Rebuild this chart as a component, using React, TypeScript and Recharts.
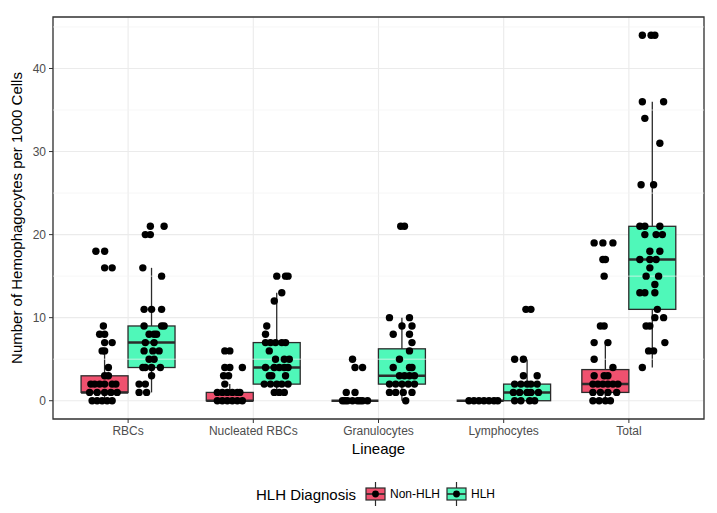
import { ComposedChart, Bar, Scatter, XAxis, YAxis, CartesianGrid, ReferenceLine, ReferenceArea, Legend } from 'recharts';

const CATEGORIES = ['RBCs', 'Nucleated RBCs', 'Granulocytes', 'Lymphocytes', 'Total'];
const GROUPS = ['Non-HLH', 'HLH'];
const COLORS = ['#F0516F', '#4FF8B9'];
const Y_TICKS = [0, 10, 20, 30, 40];
const Y_MINOR = [5, 15, 25, 35, 45];

// box stats per lineage: whisker low, q1, median, q3, whisker high
const NON_HLH_LOW = [0, 0, 0, 0, 0];
const NON_HLH_Q1 = [1, 0, 0, 0, 1];
const NON_HLH_MEDIAN = [1, 0, 0, 0, 2];
const NON_HLH_Q3 = [3, 1, 0, 0, 3.75];
const NON_HLH_HIGH = [6, 2, 0, 0, 7];

const HLH_LOW = [1, 1, 0, 0, 4];
const HLH_Q1 = [4, 2, 2, 0, 11];
const HLH_MEDIAN = [7, 4, 3, 1, 17];
const HLH_Q3 = [9, 7, 6.25, 2, 21];
const HLH_HIGH = [16, 13, 10, 5, 36];

// jittered points: [value, jitter in category units]
const RBC_NON: [number, number][] = [
  [18, -0.07], [18, 0], [16, 0], [16, 0.06], [9, -0.01], [8, -0.04], [8, 0], [7, 0], [7, 0.06],
  [6, -0.02], [6, 0], [4, 0.03], [3, 0], [3, 0.03],
  [2, -0.11], [2, -0.08], [2, -0.04], [2, 0], [2, 0.06], [2, 0.09],
  [1, -0.12], [1, -0.06], [1, 0], [1, 0.05], [1, 0.1],
  [0, -0.1], [0, -0.06], [0, -0.02], [0, 0.02], [0, 0.06],
];
const RBC_HLH: [number, number][] = [
  [21, -0.01], [21, 0.1], [20, -0.05], [20, -0.01], [16, -0.07], [15, 0.08],
  [11, -0.06], [11, 0], [11, 0.08], [9, -0.06], [9, 0.08], [9, 0.1],
  [8, -0.02], [8, 0.02], [8, 0.04], [7, -0.05], [7, 0.02], [6, -0.06], [6, 0.01], [6, 0.06],
  [5, -0.02], [5, 0.02], [4, -0.07], [4, -0.05], [4, 0], [4, 0.07], [3, 0],
  [2, -0.1], [2, -0.05], [1, -0.1], [1, -0.04],
];
const NRBC_NON: [number, number][] = [
  [6, -0.04], [6, 0], [4, -0.04], [4, 0], [4, 0.1], [3, -0.05], [3, -0.01], [2, -0.04],
  [1, -0.1], [1, -0.06], [1, -0.02], [1, 0.02], [1, 0.06], [1, 0.08],
  [0, -0.1], [0, -0.06], [0, -0.02], [0, 0.02], [0, 0.06], [0, 0.1],
];
const NRBC_HLH: [number, number][] = [
  [15, 0], [15, 0.07], [15, 0.09], [13, 0.04], [12, -0.02], [9, -0.08], [8, -0.09],
  [7, -0.09], [7, -0.05], [7, -0.01], [7, 0.04], [7, 0.07], [6, -0.06],
  [5, -0.01], [5, 0.06], [5, 0.1], [4, -0.09], [4, -0.02], [4, 0.02], [4, 0.06], [4, 0.09],
  [3, -0.06], [3, -0.04], [3, 0.07], [2, -0.1], [2, -0.05], [2, 0], [2, 0.04], [2, 0.09],
  [1, -0.02], [1, 0.02], [1, 0.06],
];
const GRAN_NON: [number, number][] = [
  [5, -0.02], [4, 0], [4, 0.06], [1, -0.07], [1, 0],
  [0, -0.1], [0, -0.08], [0, -0.06], [0, -0.02], [0, 0.02], [0, 0.04], [0, 0.06], [0, 0.1],
];
const GRAN_HLH: [number, number][] = [
  [21, -0.01], [21, 0.02], [10, -0.1], [10, 0.06], [9, 0], [9, 0.08], [8, -0.07], [8, 0.06],
  [7, 0.08], [6, 0.06], [5, -0.02], [4, -0.07], [4, 0.06], [4, 0.08],
  [3, -0.02], [3, 0.02], [3, 0.06], [3, 0.1], [2, -0.1], [2, -0.05], [2, 0], [2, 0.05], [2, 0.1],
  [1, -0.1], [1, -0.05], [1, 0.01], [1, 0.08], [0, 0.03],
];
const LYMPH_NON: [number, number][] = [
  [0, -0.09], [0, -0.05], [0, -0.01], [0, 0.03], [0, 0.07], [0, 0.11], [0, 0.14],
];
const LYMPH_HLH: [number, number][] = [
  [11, -0.01], [11, 0.03], [5, -0.1], [5, -0.03], [3, -0.03], [3, 0.08],
  [2, -0.1], [2, -0.05], [2, 0], [2, 0.03], [2, 0.08], [1, -0.11], [1, -0.06], [1, 0], [1, 0.03], [1, 0.09],
  [0, -0.1], [0, -0.05], [0, 0.02], [0, 0.06],
];
const TOTAL_NON: [number, number][] = [
  [19, -0.09], [19, -0.02], [19, 0.06], [17, -0.02], [17, 0], [15, -0.01], [9, -0.04], [9, -0.01],
  [7, -0.09], [7, 0.02], [5, -0.09], [4, 0.06], [3, -0.09], [3, -0.01], [3, 0.02],
  [2, -0.1], [2, -0.06], [2, -0.02], [2, 0.02], [2, 0.06], [2, 0.1],
  [1, -0.1], [1, -0.04], [1, 0.02], [1, 0.09], [0, -0.1], [0, -0.05], [0, 0], [0, 0.04],
];
const TOTAL_HLH: [number, number][] = [
  [44, -0.08], [44, -0.01], [44, 0.02], [36, -0.08], [36, 0.09], [34, -0.06], [31, 0.06],
  [26, -0.09], [26, 0.01], [21, -0.1], [21, -0.06], [21, 0.06], [20, -0.06], [20, 0.03], [20, 0.08],
  [18, -0.02], [18, 0.06], [17, -0.1], [17, -0.02], [17, 0.03], [16, -0.02], [15, -0.05], [15, 0.05],
  [14, 0.02], [13, -0.1], [13, -0.06], [13, 0.02], [11, 0.04], [10, 0.02], [10, 0.09],
  [9, -0.05], [9, -0.02], [7, 0.1], [6, -0.03], [6, 0.01], [4, -0.08],
];

const NON_HLH_POINTS = [RBC_NON, NRBC_NON, GRAN_NON, LYMPH_NON, TOTAL_NON];
const HLH_POINTS = [RBC_HLH, NRBC_HLH, GRAN_HLH, LYMPH_HLH, TOTAL_HLH];

const DODGE = 0.1875;
const BOX_WIDTH = 47;
const LINE = '#2B2B2B';

const boxes = CATEGORIES.flatMap((name, i) => [
  {
    name, x: i + 1 - DODGE, fill: COLORS[0],
    low: NON_HLH_LOW[i], q1: NON_HLH_Q1[i], median: NON_HLH_MEDIAN[i], q3: NON_HLH_Q3[i], high: NON_HLH_HIGH[i],
    range: [NON_HLH_LOW[i], NON_HLH_HIGH[i]],
  },
  {
    name, x: i + 1 + DODGE, fill: COLORS[1],
    low: HLH_LOW[i], q1: HLH_Q1[i], median: HLH_MEDIAN[i], q3: HLH_Q3[i], high: HLH_HIGH[i],
    range: [HLH_LOW[i], HLH_HIGH[i]],
  },
]);

const toScatter = (groups: [number, number][][], shift: number) =>
  groups.flatMap((pts, i) => pts.map(([v, j]) => ({ x: i + 1 + shift + j, y: v })));

const nonHlhData = toScatter(NON_HLH_POINTS, -DODGE);
const hlhData = toScatter(HLH_POINTS, DODGE);

const BoxShape = (props: any) => {
  const { x, y, width, height, payload } = props;
  if (x == null || y == null || !payload) return null;
  const top = Math.min(y, y + height);
  const bottom = Math.max(y, y + height);
  const span = payload.high - payload.low;
  const px = (v: number) => (span === 0 ? bottom : bottom - ((v - payload.low) / span) * (bottom - top));
  const cx = x + width / 2;
  const left = cx - BOX_WIDTH / 2;
  return (
    <g>
      <line x1={cx} x2={cx} y1={top} y2={bottom} stroke={LINE} strokeWidth={1.3} />
      <rect x={left} y={px(payload.q3)} width={BOX_WIDTH} height={px(payload.q1) - px(payload.q3)}
        fill={payload.fill} stroke={LINE} strokeWidth={1.3} />
      <line x1={left} x2={left + BOX_WIDTH} y1={px(payload.median)} y2={px(payload.median)} stroke={LINE} strokeWidth={2.5} />
    </g>
  );
};

const Dot = (p: any) => <circle cx={p.cx} cy={p.cy} r={3.7} fill="#000" />;

const KeyGlyph = ({ color }: { color: string }) => (
  <svg width={21} height={24}>
    <line x1={10.5} x2={10.5} y1={0} y2={24} stroke={LINE} strokeWidth={1.2} />
    <rect x={1} y={6} width={19} height={12} fill={color} stroke={LINE} strokeWidth={1.2} />
    <line x1={1} x2={20} y1={12} y2={12} stroke={LINE} strokeWidth={1.6} />
    <circle cx={10.5} cy={12} r={3.4} fill="#000" />
  </svg>
);

const LegendContent = () => (
  <div style={{ display: 'flex', justifyContent: 'center', alignItems: 'center', height: 28 }}>
    <span style={{ fontSize: 15, marginRight: 9 }}>HLH Diagnosis</span>
    {GROUPS.map((g, i) => (
      <span key={g} style={{ display: 'flex', alignItems: 'center', marginRight: 6 }}>
        <KeyGlyph color={COLORS[i]} />
        <span style={{ fontSize: 12, marginLeft: 4 }}>{g}</span>
      </span>
    ))}
  </div>
);

const YLabel = (props: any) => {
  const vb = props.viewBox;
  const cx = vb.x + 8.5;
  const cy = vb.y + vb.height / 2;
  return (
    <text x={cx} y={cy} transform={`rotate(-90 ${cx} ${cy})`} textAnchor="middle"
      dominantBaseline="central" fontSize={15} fill="#000">
      Number of Hemophagocytes per 1000 Cells
    </text>
  );
};

export default function App() {
  return (
    <div style={{ fontFamily: '"Liberation Sans", Arial, sans-serif' }}>
      <ComposedChart width={709} height={505} data={boxes}
        margin={{ top: 9, right: 13, left: 0, bottom: 59 }}>
        <CartesianGrid stroke="#EBEBEB" strokeWidth={1.1} />
        {Y_MINOR.map((v) => (
          <ReferenceLine key={v} y={v} stroke="#F3F3F3" strokeWidth={0.7} />
        ))}
        <XAxis dataKey="x" type="number" domain={[0.4, 5.6]} allowDataOverflow ticks={[1, 2, 3, 4, 5]}
          tickFormatter={(v: number) => CATEGORIES[v - 1]} axisLine={false}
          tickLine={{ stroke: '#333' }} tickSize={4} tickMargin={3.5} height={35}
          tick={{ fill: '#4D4D4D', fontSize: 12 }}
          label={{ value: 'Lineage', position: 'insideBottom', offset: 0, fill: '#000', fontSize: 15 }} />
        <YAxis type="number" domain={[-2.2, 46.2]} allowDataOverflow ticks={Y_TICKS} width={45}
          axisLine={false} tickLine={{ stroke: '#333' }} tickSize={4} tickMargin={3}
          tick={{ fill: '#4D4D4D', fontSize: 12 }} label={{ content: YLabel }} />
        <Bar dataKey="range" barSize={47} shape={BoxShape} isAnimationActive={false} />
        <Scatter name="Non-HLH" data={nonHlhData} dataKey="y" shape={Dot} isAnimationActive={false} />
        <Scatter name="HLH" data={hlhData} dataKey="y" shape={Dot} isAnimationActive={false} />
        <ReferenceArea x1={0.4} x2={5.6} y1={-2.2} y2={46.2} fill="none" fillOpacity={0}
          stroke="#333" strokeWidth={1.3} />
        <Legend content={LegendContent} verticalAlign="middle" align="center" layout="horizontal"
          wrapperStyle={{ top: 472, left: 16, width: 709 }} />
      </ComposedChart>
    </div>
  );
}
